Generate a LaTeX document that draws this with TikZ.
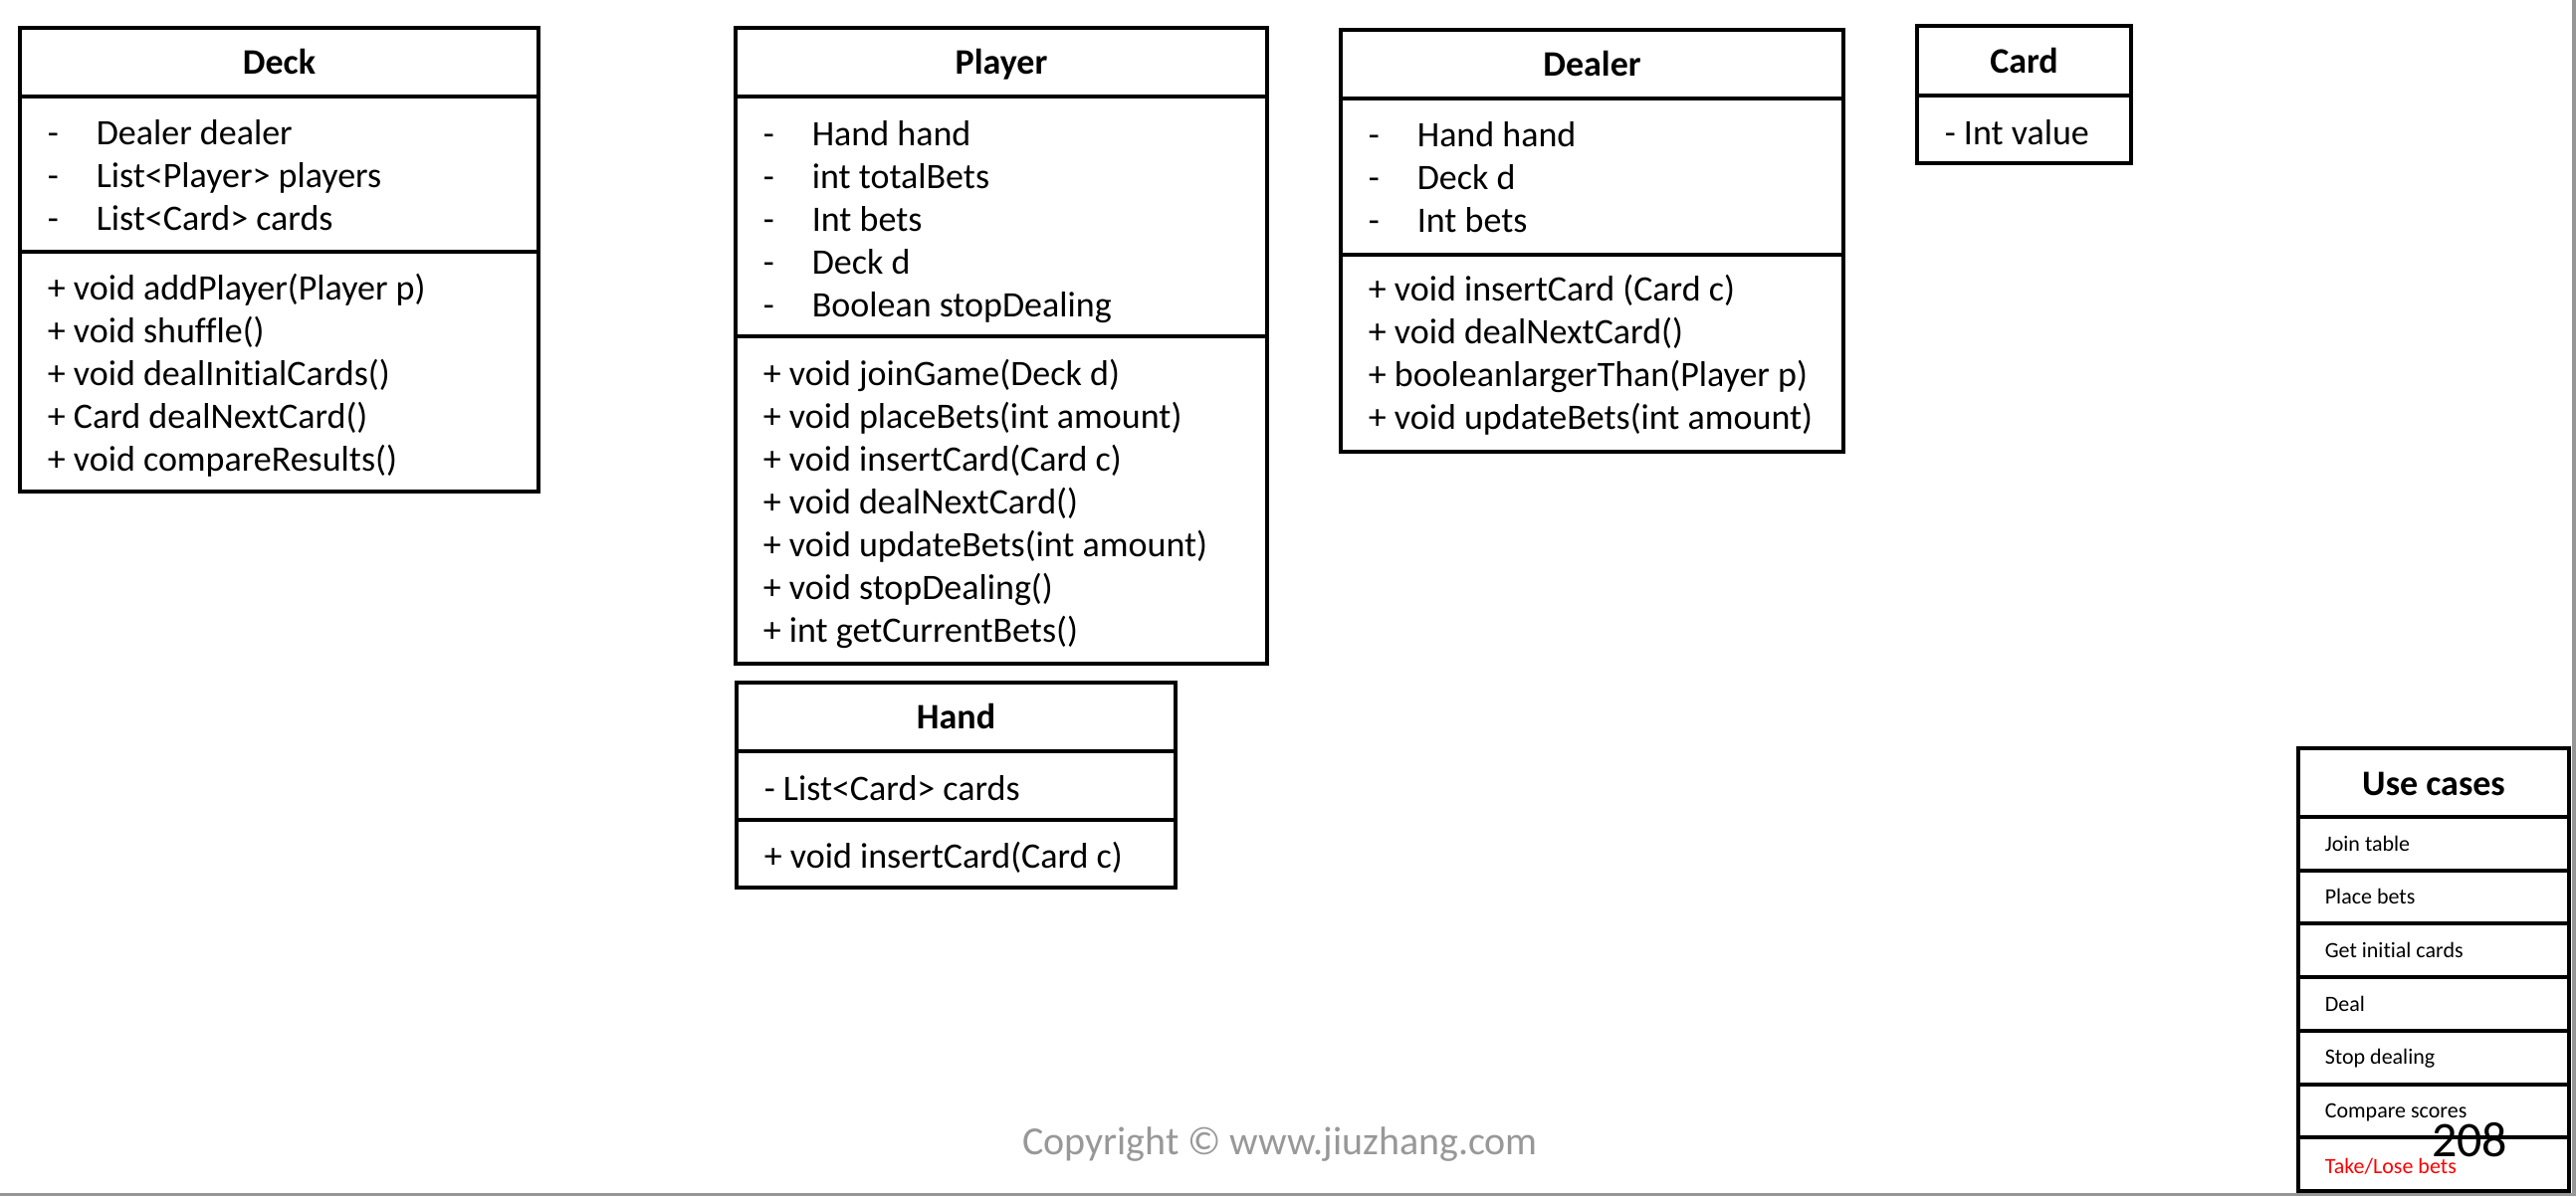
\documentclass[tikz,border=0pt]{standalone}
\usepackage{fontspec}
\setmainfont{Carlito}[Ligatures=NoCommon]
\usepackage{tikz}

\definecolor{copygray}{RGB}{152,152,152}
\definecolor{edgegray}{RGB}{150,150,150}

\tikzset{
  classbox/.style={line width=1pt},
  classtitle/.style={font=\bfseries\fontsize{9}{10.75}\selectfont, anchor=base, inner sep=0pt},
  member/.style={font=\fontsize{9}{10.75}\selectfont, anchor=base west, inner sep=0pt},
  usecase/.style={font=\fontsize{5.5}{6.6}\selectfont, anchor=base west, inner sep=0pt},
}

\begin{document}
\begin{tikzpicture}[x=0.25pt, y=-0.25pt]
\useasboundingbox (0,0) rectangle (2588,1202);
\begin{scope}[scale=1]

% page edge
\fill[edgegray] (2584,0) rectangle (2588,1202);
\fill[edgegray] (0,1199) rectangle (2588,1202);

% Deck
\draw[classbox] (20,28) rectangle (541,494);
\draw[classbox] (20,97) -- (541,97);
\draw[classbox] (20,253) -- (541,253);
\node[classtitle] (deck) at (280.5,74) {Deck};
\foreach \t [count=\i] in {Dealer dealer, List<Player> players, List<Card> cards}{
  \node[member] (deckdash\i) at (47,{145+43*(\i-1)}) {-};
  \node[member] (deckatt\i) at (96,{145+43*(\i-1)}) {\t};
}
\foreach \t [count=\i] in {+ void addPlayer(Player p), + void shuffle(), + void dealInitialCards(), + Card dealNextCard(), + void compareResults()}
  \node[member] (deckop\i) at (47,{301+43*(\i-1)}) {\t};

% Player
\draw[classbox] (739,28) rectangle (1273,667);
\draw[classbox] (739,97) -- (1273,97);
\draw[classbox] (739,338) -- (1273,338);
\node[classtitle] (player) at (1006,74) {Player};
\foreach \t [count=\i] in {Hand hand, int totalBets, Int bets, Deck d, Boolean stopDealing}{
  \node[member] (playerdash\i) at (766,{146+43*(\i-1)}) {-};
  \node[member] (playeratt\i) at (815,{146+43*(\i-1)}) {\t};
}
\foreach \t [count=\i] in {+ void joinGame(Deck d), + void placeBets(int amount), + void insertCard(Card c), + void dealNextCard(), + void updateBets(int amount), + void stopDealing(), + int getCurrentBets()}
  \node[member] (playerop\i) at (766,{387+43*(\i-1)}) {\t};

% Hand
\draw[classbox] (740,686) rectangle (1181,892);
\draw[classbox] (740,755) -- (1181,755);
\draw[classbox] (740,824) -- (1181,824);
\node[classtitle] (hand) at (960.5,732) {Hand};
\node[member] (handatt) at (767,804) {- List<Card> cards};
\node[member] (handop) at (767,872) {+ void insertCard(Card c)};

% Dealer
\draw[classbox] (1347,30) rectangle (1852,454);
\draw[classbox] (1347,99) -- (1852,99);
\draw[classbox] (1347,256) -- (1852,256);
\node[classtitle] (dealer) at (1599.5,76) {Dealer};
\foreach \t [count=\i] in {Hand hand, Deck d, Int bets}{
  \node[member] (dealerdash\i) at (1374,{147+43*(\i-1)}) {-};
  \node[member] (dealeratt\i) at (1423,{147+43*(\i-1)}) {\t};
}
\foreach \t [count=\i] in {+ void insertCard (Card c), + void dealNextCard(), + booleanlargerThan(Player p), + void updateBets(int amount)}
  \node[member] (dealerop\i) at (1374,{302+43*(\i-1)}) {\t};

% Card
\draw[classbox] (1926,26) rectangle (2141,164);
\draw[classbox] (1926,96) -- (2141,96);
\node[classtitle] (card) at (2033.5,73) {Card};
\node[member] (cardatt) at (1953,145) {- Int value};

% Use cases
\draw[classbox] (2309,752) rectangle (2581,1197);
\foreach \y in {821,875,928,982,1036,1090,1143}
  \draw[classbox] (2309,\y) -- (2581,\y);
\node[classtitle] (usecases) at (2445,799) {Use cases};
\foreach \t [count=\i] in {Join table, Place bets, Get initial cards, Deal, Stop dealing, Compare scores}
  \node[usecase] (uc\i) at (2335,{855+53.7*(\i-1)}) {\t};
\node[usecase, text=red] (uc7) at (2335,1179) {Take/Lose bets};

% footer
\node[font=\fontsize{10}{12}\selectfont, text=copygray, anchor=base, inner sep=0pt] (copyright) at (1286,1160) {Copyright © www.jiuzhang.com};
\node[font=\fontsize{12.5}{15}\selectfont, anchor=base, inner sep=0pt] (pagenum) at (2481,1162) {208};

\end{scope}
\end{tikzpicture}
\end{document}
